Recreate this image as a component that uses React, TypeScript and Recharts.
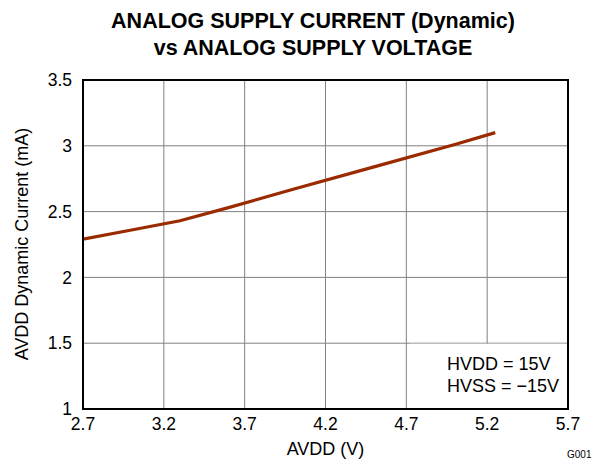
import React from "react";
import { LineChart, Line, XAxis, YAxis, CartesianGrid, ReferenceArea } from "recharts";

const avdd = [2.7, 3.0, 3.3, 3.6, 4.0, 4.5, 5.0, 5.25];
const current = [2.29, 2.36, 2.43, 2.53, 2.67, 2.84, 3.01, 3.1];
const xTicks = [2.7, 3.2, 3.7, 4.2, 4.7, 5.2, 5.7];
const yTicks = [1, 1.5, 2, 2.5, 3, 3.5];

const data = avdd.map((v, i) => ({ x: v, y: current[i] }));

const font = '"Liberation Sans", Arial, sans-serif';

export default function App() {
  return (
    <div style={{ position: "absolute", left: 0, top: 0, width: 600, height: 463, background: "#fff", fontFamily: font }}>
      <LineChart width={600} height={463} data={data} margin={{ top: 80, right: 32, bottom: 0, left: 0 }}>
        <CartesianGrid stroke="#808080" strokeWidth={1} horizontalValues={yTicks} verticalValues={xTicks} />
        <XAxis
          dataKey="x"
          type="number"
          domain={[2.7, 5.7]}
          ticks={xTicks}
          height={54}
          tickLine={false}
          tickSize={0}
          tickMargin={9}
          axisLine={{ stroke: "#000", strokeWidth: 2 }}
          tick={{ fill: "#000", fontSize: 17.5, fontFamily: font }}
          allowDataOverflow
        />
        <YAxis
          dataKey="y"
          type="number"
          domain={[1, 3.5]}
          ticks={yTicks}
          width={83}
          tickLine={false}
          tickSize={0}
          tickMargin={11}
          axisLine={{ stroke: "#000", strokeWidth: 2 }}
          tick={{ fill: "#000", fontSize: 17.5, fontFamily: font }}
          allowDataOverflow
        />
        <ReferenceArea x1={4.72} x2={5.7} y1={1} y2={1.495} fill="#fff" fillOpacity={1} stroke="none" />
        <ReferenceArea x1={2.7} x2={5.7} y1={1} y2={3.5} fill="none" stroke="#000" strokeWidth={2} />
        <Line type="linear" dataKey="y" stroke="#9a2a00" strokeWidth={3.2} dot={false} isAnimationActive={false} />
      </LineChart>
      <div style={{ position: "absolute", left: 0, width: 626, top: 8, textAlign: "center", fontWeight: "bold", fontSize: 21.5, lineHeight: "27px", color: "#000", whiteSpace: "nowrap" }}>
        ANALOG SUPPLY CURRENT (Dynamic)
        <br />
        vs ANALOG SUPPLY VOLTAGE
      </div>
      <div style={{ position: "absolute", left: 22, top: 243.5, transform: "translate(-50%, -50%) rotate(-90deg)", whiteSpace: "nowrap", fontSize: 18, color: "#000" }}>
        AVDD Dynamic Current (mA)
      </div>
      <div style={{ position: "absolute", left: 325.5, top: 449, transform: "translate(-50%, -50%)", whiteSpace: "nowrap", fontSize: 18, color: "#000" }}>
        AVDD (V)
      </div>
      <div style={{ position: "absolute", left: 447, top: 353, fontSize: 18, lineHeight: "22px", whiteSpace: "nowrap", color: "#000" }}>
        HVDD = 15V
        <br />
        HVSS = −15V
      </div>
      <div style={{ position: "absolute", left: 567, top: 449, fontSize: 10, whiteSpace: "nowrap", color: "#000" }}>
        G001
      </div>
    </div>
  );
}
